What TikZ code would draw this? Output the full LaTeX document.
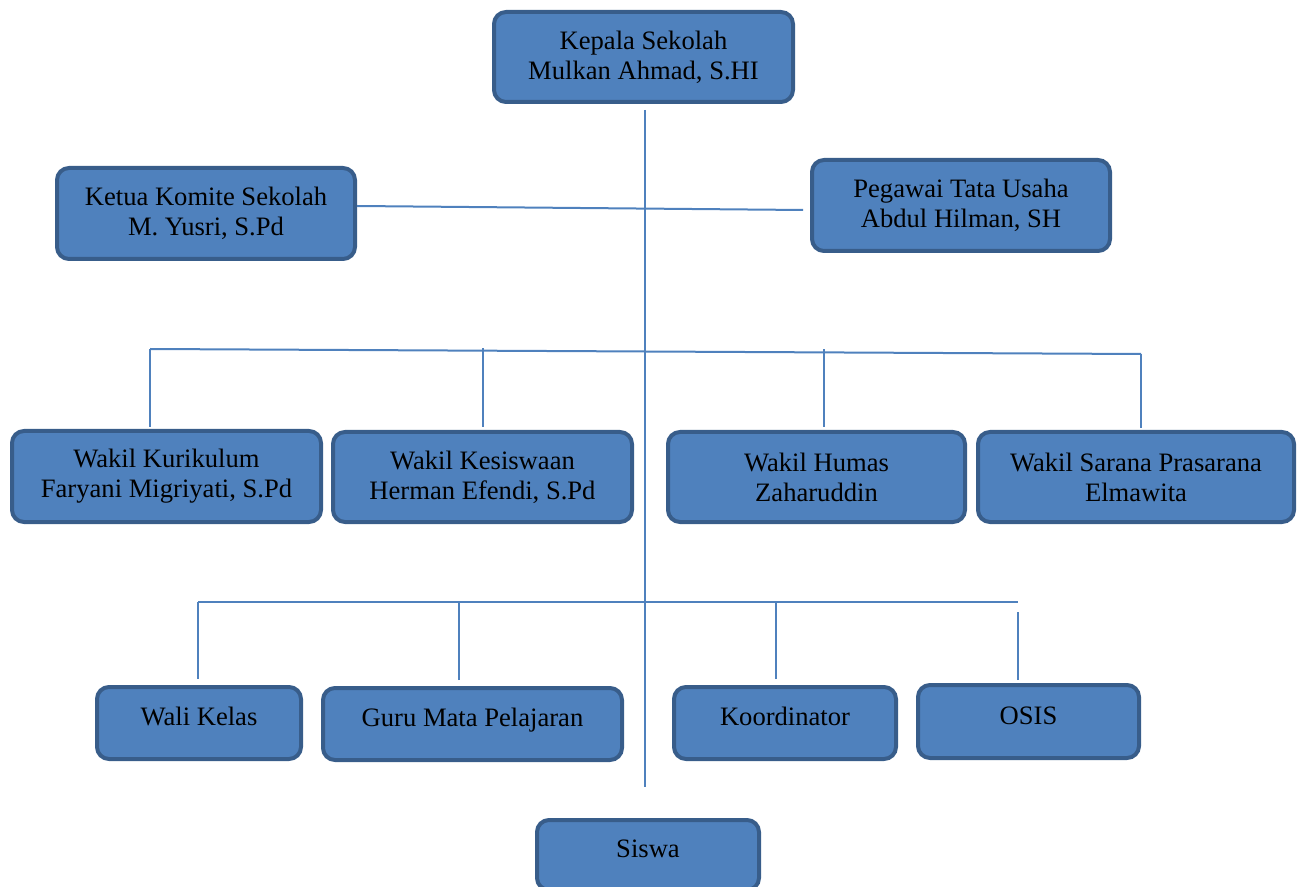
\documentclass[tikz,border=0pt]{standalone}
\usepackage{fontspec}
\setmainfont{Liberation Serif}
\usetikzlibrary{positioning}
\definecolor{unitfill}{HTML}{4F81BD}
\definecolor{unitedge}{HTML}{385D8A}
\tikzset{
    unit/.style={draw=unitedge, fill=unitfill, line width=2pt, rounded corners=6pt,
        align=center, inner sep=2pt, font=\fontsize{13.3}{15}\selectfont,
        minimum height=45pt},
    smallunit/.style={unit, minimum height=36pt, text height=9pt, text depth=6.5pt},
    link/.style={draw=unitfill, line width=1pt},
}
\begin{document}
\begin{tikzpicture}[x=0.5pt, y=-0.5pt]
    \useasboundingbox (0,0) rectangle (1301,887);

    % pimpinan
    \node[unit, minimum width=149.5pt] (kepsek) at (643.5,57) {Kepala Sekolah\\Mulkan Ahmad, S.HI};
    \node[unit, minimum width=149pt, minimum height=45.5pt] (komite) at (206,213.5) {Ketua Komite Sekolah\\M. Yusri, S.Pd};
    \node[unit, minimum width=149pt, minimum height=45.5pt] (tatausaha) at (961,205.5) {Pegawai Tata Usaha\\Abdul Hilman, SH};

    % wakil kepala sekolah
    \node[unit, minimum width=154.5pt, minimum height=45.5pt] (kurikulum) at (166.5,476.5) {Wakil Kurikulum\\Faryani Migriyati, S.Pd};
    \node[unit, minimum width=149.5pt] (kesiswaan) at (482.5,477) {Wakil Kesiswaan\\Herman Efendi, S.Pd};
    \node[unit, minimum width=148.5pt] (humas) at (816.5,477) {Wakil Humas\\Zaharuddin};
    \node[unit, minimum width=158pt] (sarana) at (1136,477) {Wakil Sarana Prasarana\\Elmawita};

    % pelaksana
    \node[smallunit, minimum width=102pt] (walikelas) at (199,723) {Wali Kelas};
    \node[smallunit, minimum width=149.5pt] (guru) at (472.5,724) {Guru Mata Pelajaran};
    \node[smallunit, minimum width=111pt] (koordinator) at (785,723) {Koordinator};
    \node[smallunit, minimum width=110.5pt, minimum height=36.5pt] (osis) at (1028.5,721.5) {OSIS};
    \node[smallunit, minimum width=111pt, minimum height=35pt] (siswa) at (648,855) {Siswa};

    % garis
    \coordinate (trunktop) at (645,110);
    \coordinate (trunkend) at (645,787);
    \coordinate (busL) at (150,349);
    \coordinate (busR) at (1141,354);
    \coordinate (lowL) at (198,602);
    \coordinate (lowR) at (1018,602);

    \draw[link] (trunktop) -- (trunkend);
    \draw[link] ([yshift=3.75pt]komite.east) -- ([xshift=-3.5pt, yshift=-2.25pt]tatausaha.west);

    \draw[link] (busL) -- (busR);
    \draw[link] (busL) -- ([yshift=1pt]kurikulum.north -| busL);
    \draw[link] ([yshift=1.5pt]kesiswaan.north) -- ++(0,-79);
    \draw[link] ([xshift=3.75pt, yshift=1.5pt]humas.north) -- ++(0,-78);
    \draw[link] (busR) -- ([yshift=1pt]sarana.north -| busR);

    \draw[link] (lowL) -- (lowR);
    \draw[link] (lowL) -- ([yshift=3pt]walikelas.north -| lowL);
    \draw[link] ([xshift=-6.75pt, yshift=3pt]guru.north) -- ++(0,-78);
    \draw[link] ([xshift=-4.5pt, yshift=3pt]koordinator.north) -- ++(0,-78);
    \draw[link] ([xshift=-5.25pt, yshift=1.5pt]osis.north) -- ++(0,-68);
\end{tikzpicture}
\end{document}
